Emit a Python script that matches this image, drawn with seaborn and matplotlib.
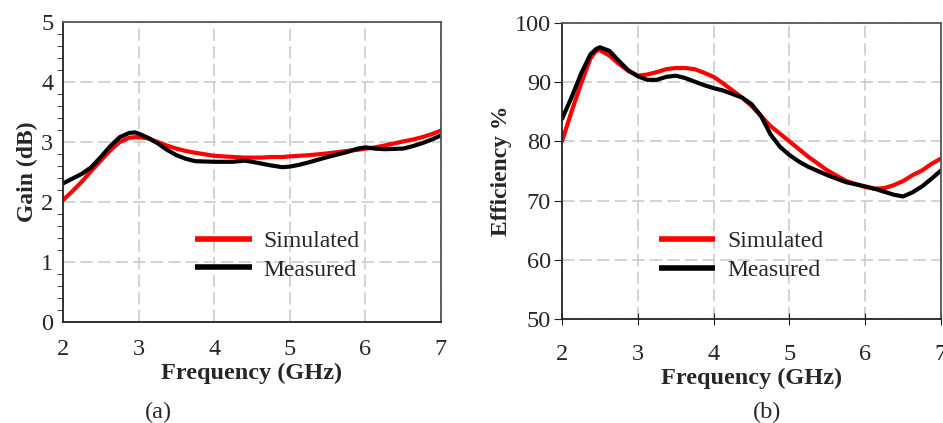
import matplotlib
matplotlib.use("Agg")
import matplotlib.pyplot as plt
import numpy as np
import pandas as pd
import seaborn as sns
from matplotlib.ticker import MultipleLocator

# gain panel (a)
gain_freq = [2.0, 2.125, 2.25, 2.375, 2.5, 2.625, 2.75, 2.875, 2.95, 3.0, 3.125, 3.25, 3.375, 3.5,
             3.625, 3.75, 4.0, 4.25, 4.4, 4.5, 4.625, 4.75, 4.9, 5.0, 5.125, 5.25, 5.5, 5.75, 5.9,
             6.0, 6.125, 6.25, 6.5, 6.625, 6.75, 6.875, 7.0]
gain_sim = [2.03, 2.18, 2.34, 2.52, 2.69, 2.86, 3.00, 3.07, 3.08, 3.08, 3.06, 3.00, 2.94, 2.89,
            2.85, 2.82, 2.77, 2.75, 2.74, 2.74, 2.74, 2.75, 2.75, 2.76, 2.77, 2.78, 2.81, 2.85, 2.87,
            2.89, 2.91, 2.94, 3.01, 3.04, 3.08, 3.13, 3.19]
gain_meas = [2.31, 2.39, 2.47, 2.58, 2.75, 2.93, 3.08, 3.15, 3.16, 3.14, 3.07, 2.98, 2.87, 2.78,
             2.72, 2.68, 2.67, 2.67, 2.69, 2.67, 2.64, 2.61, 2.58, 2.59, 2.62, 2.66, 2.75, 2.83, 2.89,
             2.91, 2.89, 2.88, 2.89, 2.93, 2.98, 3.04, 3.11]

# efficiency panel (b)
eff_freq = [2.0, 2.125, 2.25, 2.375, 2.45, 2.5, 2.625, 2.75, 2.875, 3.0, 3.125, 3.25, 3.375, 3.5,
            3.625, 3.75, 3.875, 4.0, 4.125, 4.25, 4.375, 4.5, 4.625, 4.75, 4.875, 5.0, 5.125, 5.25,
            5.5, 5.75, 6.0, 6.125, 6.25, 6.375, 6.5, 6.625, 6.75, 6.875, 7.0]
eff_sim = [80.0, 85.0, 89.7, 94.0, 95.3, 95.4, 94.5, 93.1, 91.9, 91.1, 91.3, 91.7, 92.2, 92.4,
           92.4, 92.2, 91.6, 90.9, 89.8, 88.6, 87.4, 86.0, 84.3, 82.6, 81.3, 80.0, 78.7, 77.4,
           75.1, 73.3, 72.3, 72.0, 72.1, 72.6, 73.3, 74.3, 75.1, 76.2, 77.1]
eff_meas = [83.8, 87.4, 91.4, 94.7, 95.6, 95.9, 95.3, 93.6, 92.0, 91.0, 90.4, 90.4, 90.9, 91.1,
            90.7, 90.1, 89.5, 89.0, 88.6, 88.0, 87.4, 86.3, 84.3, 81.2, 79.1, 77.7, 76.6, 75.7,
            74.3, 73.1, 72.4, 72.0, 71.5, 71.0, 70.7, 71.4, 72.4, 73.7, 75.1]

series_names = ["Simulated", "Measured"]
series_colors = ["#ff0000", "#000000"]

sns.set_style("white")
plt.rcParams["font.family"] = ["Liberation Serif", "DejaVu Serif"]
plt.rcParams["lines.solid_joinstyle"] = "round"
plt.rcParams["lines.solid_capstyle"] = "round"


def long_df(freq, sim, meas):
    df = pd.DataFrame({"freq": freq, "Simulated": sim, "Measured": meas})
    return df.melt(id_vars="freq", var_name="series", value_name="value")


def style_axes(ax, ylabel):
    ax.grid(True, color="#c8c8c8", linestyle=(0, (8, 3.5)), linewidth=1.1)
    ax.set_axisbelow(True)
    for side in ["left", "bottom"]:
        ax.spines[side].set_color("#222222")
        ax.spines[side].set_linewidth(1.3)
    for side in ["top", "right"]:
        ax.spines[side].set_color("#555555")
        ax.spines[side].set_linewidth(1.3)
    ax.set_xlim(2, 7)
    ax.xaxis.set_major_locator(MultipleLocator(1))
    ax.set_xlabel("Frequency (GHz)", fontsize=17.5, fontweight="bold", labelpad=2)
    ax.set_ylabel(ylabel, fontsize=17, fontweight="bold", labelpad=2)
    ax.tick_params(labelsize=17.5)
    leg = ax.legend(frameon=False, fontsize=17, handlelength=2.4, handletextpad=0.5,
                    labelspacing=0.3, borderpad=0, borderaxespad=0)
    for line in leg.get_lines():
        line.set_linewidth(4)
        line.set_solid_capstyle("butt")
    return leg


fig = plt.figure(figsize=(9.43, 4.23), dpi=100)
ax1 = fig.add_axes([63 / 943, 1 - 322 / 423, 378 / 943, 300 / 423])
ax2 = fig.add_axes([562 / 943, 1 - 319 / 423, 379 / 943, 296 / 423])

sns.lineplot(data=long_df(gain_freq, gain_sim, gain_meas), x="freq", y="value", hue="series",
             hue_order=series_names, palette=series_colors, linewidth=3, ax=ax1)
sns.lineplot(data=long_df(eff_freq, eff_sim, eff_meas), x="freq", y="value", hue="series",
             hue_order=series_names, palette=series_colors, linewidth=3, ax=ax2)

# panel a
ax1.set_ylim(0, 5)
ax1.yaxis.set_major_locator(MultipleLocator(1))
ax1.yaxis.set_minor_locator(MultipleLocator(0.2))
leg1 = style_axes(ax1, "Gain (dB)")
ax1.tick_params(axis="x", length=0, pad=12)
ax1.tick_params(axis="y", which="major", length=5, direction="out", color="#222222", pad=2)
ax1.tick_params(axis="y", which="minor", left=True, length=4, direction="out", color="#222222")
leg1.set_bbox_to_anchor((0.35, 0.305), transform=ax1.transAxes)
leg1._loc = 2

# panel b
ax2.set_ylim(50, 100)
ax2.yaxis.set_major_locator(MultipleLocator(10))
leg2 = style_axes(ax2, "Efficiency %")
ax2.tick_params(axis="x", bottom=True, length=8, direction="inout", color="#222222", pad=14)
ax2.tick_params(axis="y", left=True, length=6, direction="out", color="#222222", pad=2)
leg2.set_bbox_to_anchor((0.255, 0.298), transform=ax2.transAxes)
leg2._loc = 2

fig.text(158 / 943, 1 - 412 / 423, "(a)", fontsize=17.5, ha="center", va="center")
fig.text(767 / 943, 1 - 412 / 423, "(b)", fontsize=17.5, ha="center", va="center")

fig.savefig("out.png", dpi=100)
